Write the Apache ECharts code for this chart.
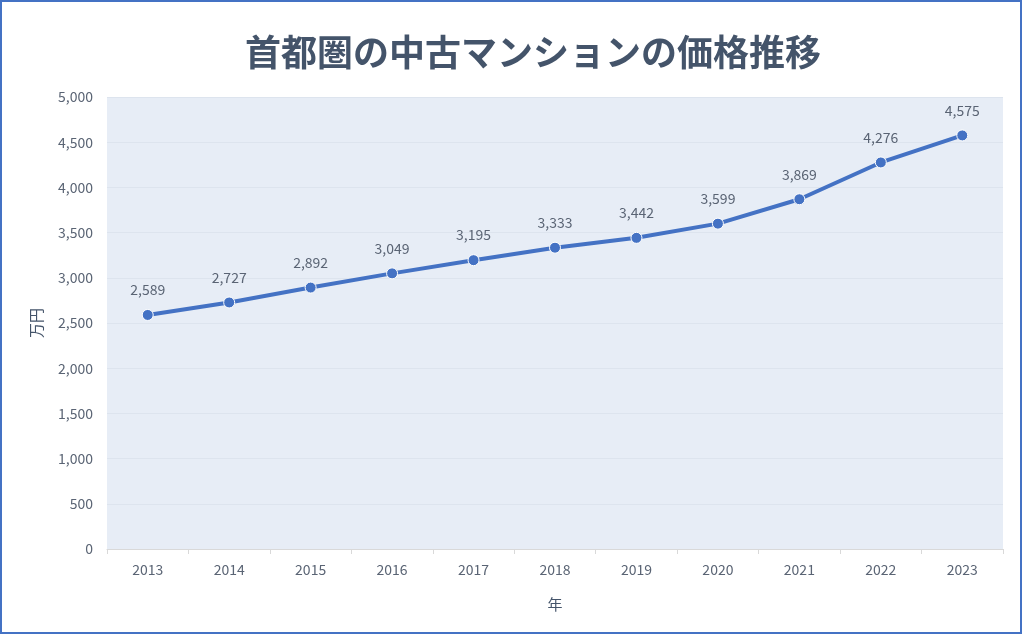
<!DOCTYPE html>
<html><head><meta charset="utf-8">
<script src="https://cdn.jsdelivr.net/npm/echarts@6/dist/echarts.min.js"></script>
<style>
html,body{margin:0;padding:0;background:#fff;}
#frame{position:absolute;left:0;top:0;width:1018px;height:630px;border:2px solid #4472c4;}
#c{position:absolute;left:0;top:0;width:1024px;height:635px;}
</style></head><body>
<div id="frame"></div>
<div id="c"></div>
<script>
const years = ['2013','2014','2015','2016','2017','2018','2019','2020','2021','2022','2023'];
const prices = [2589,2727,2892,3049,3195,3333,3442,3599,3869,4276,4575];
const titleText = '首都圏の中古マンションの価格推移';
const yName = '万円';
const xName = '年';

const chart = echarts.init(document.getElementById('c'), null, {renderer:'canvas'});
const font = '"Noto Sans CJK JP","Noto Sans",sans-serif';
chart.setOption({
  animation:false,
  title:{text:titleText,left:528,top:29,textAlign:'center',
    textStyle:{fontSize:36,fontWeight:'bold',color:'#44546a',fontFamily:font}},
  grid:{left:107,right:21,top:97,bottom:86,show:true,backgroundColor:'#e7edf6',borderWidth:0},
  xAxis:{type:'category',data:years,boundaryGap:true,
    name:xName,nameLocation:'middle',nameGap:48,
    nameTextStyle:{color:'#44546a',fontSize:15,fontFamily:font},
    axisLine:{lineStyle:{color:'#d9d9d9'}},
    axisTick:{show:true,length:5,lineStyle:{color:'#d9d9d9'}},
    axisLabel:{color:'#5a6474',fontSize:14,margin:14,fontFamily:font}},
  yAxis:{type:'value',min:0,max:5000,interval:500,
    name:yName,nameLocation:'middle',nameGap:63,nameRotate:90,
    nameTextStyle:{color:'#44546a',fontSize:15,fontFamily:font},
    axisLine:{show:false},axisTick:{show:false},
    splitLine:{lineStyle:{color:'#dde4ee',width:1}},
    axisLabel:{color:'#5a6474',fontSize:14,margin:14,fontFamily:font,
      formatter:v=>v.toLocaleString('en-US')}},
  series:[{type:'line',data:prices,symbol:'circle',symbolSize:11,
    lineStyle:{color:'#4472c4',width:4},
    itemStyle:{color:'#4472c4',borderColor:'#fff',borderWidth:1},
    label:{show:true,position:'top',distance:12,color:'#5a6474',fontSize:14,fontFamily:font,
      formatter:p=>p.value.toLocaleString('en-US')}}]
});
</script></body></html>
